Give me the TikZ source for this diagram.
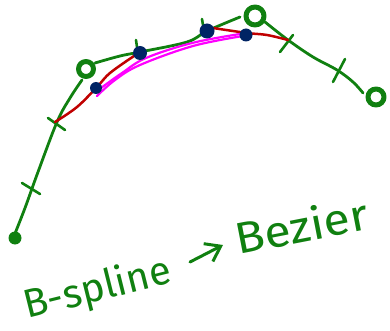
\documentclass[tikz,border=0pt]{standalone}
\usepackage{fontspec}
\setmainfont{Fira Sans}
\usetikzlibrary{arrows.meta}
\definecolor{pgreen}{RGB}{16,128,16}
\definecolor{pred}{RGB}{192,0,0}
\definecolor{pmag}{RGB}{255,0,255}
\definecolor{pnavy}{RGB}{0,36,100}
\begin{document}
\begin{tikzpicture}[x=1pt,y=-1pt,line cap=round,line join=round,
  gline/.style={pgreen,line width=2.8pt},
  rline/.style={pred,line width=2.5pt},
  mline/.style={pmag,line width=2.2pt},
  tick/.style={pgreen,line width=2.6pt},
  ring/.style={circle,draw=pgreen,line width=5pt,minimum size=15pt,inner sep=0pt},
  blob/.style={circle,fill=pgreen,minimum size=13pt,inner sep=0pt},
  bdot/.style={circle,fill=pnavy,minimum size=14pt,inner sep=0pt},
  hand/.style={pgreen,inner sep=0pt}]
\useasboundingbox (0,0) rectangle (390,331);
% control polygon (green)
\draw[gline] plot[smooth,tension=0.6] coordinates {(14,236) (25,208) (38,172) (57,122) (70,98) (82,80)};
\draw[gline] plot[smooth,tension=0.6] coordinates {(95,63) (120,56) (140,52) (187,42) (207,31) (240,17)};
\draw[gline] plot[smooth,tension=0.6] coordinates {(265,22) (288,40) (313,57) (337,70) (353,82) (363,93)};
% tick marks
\draw[tick] (22,183) -- (40,194);
\draw[tick] (48,118) -- (65,130);
\draw[tick] (280,52) -- (293,35);
\draw[tick] (333,82) -- (345,59);
\draw[tick] (136,40) -- (137,47);
\draw[tick] (202,19) -- (203,25);
% red Bezier pieces
\draw[rline] plot[smooth,tension=0.6] coordinates {(55,122) (77,107) (97,87) (110,73) (134,56)};
\draw[rline] plot[smooth,tension=0.6] coordinates {(213,28) (247,33) (267,35) (288,40)};
% magenta middle piece
\draw[mline] plot[smooth,tension=0.6] coordinates {(97,96) (115,80) (140,65) (193,46) (243,36)};
\draw[mline] plot[smooth,tension=0.6] coordinates {(101,88) (122,73) (146,58) (192,43) (240,34)};
% control points
\node[blob] (p0) at (15,238) {};
\node[ring] (p1) at (86,69) {};
\node[ring,minimum height=18pt] (p2) at (255,16) {};
\node[ring,minimum size=16pt] (p3) at (376,97) {};
% Bezier points
\node[bdot,minimum size=12pt] (b1) at (96,88) {};
\node[bdot] (b2) at (140,53) {};
\node[bdot,minimum size=15pt] (b3) at (207,31) {};
\node[bdot,minimum size=13pt] (b4) at (246,35) {};
% title
\node[hand,font=\fontsize{40}{40}\selectfont,anchor=base west,rotate=14] (bs) at (27,319) {B-spline};
\node[hand,font=\fontsize{44}{44}\selectfont,anchor=base west,rotate=11,xscale=1.1] (bz) at (238,255) {Bezier};
\coordinate (a1) at (190,262);
\coordinate (a2) at (223,245);
\draw[pgreen,line width=3pt,-{Straight Barb[length=14pt,width=20pt,line width=3pt]}] (a1) -- (a2);
\end{tikzpicture}
\end{document}
